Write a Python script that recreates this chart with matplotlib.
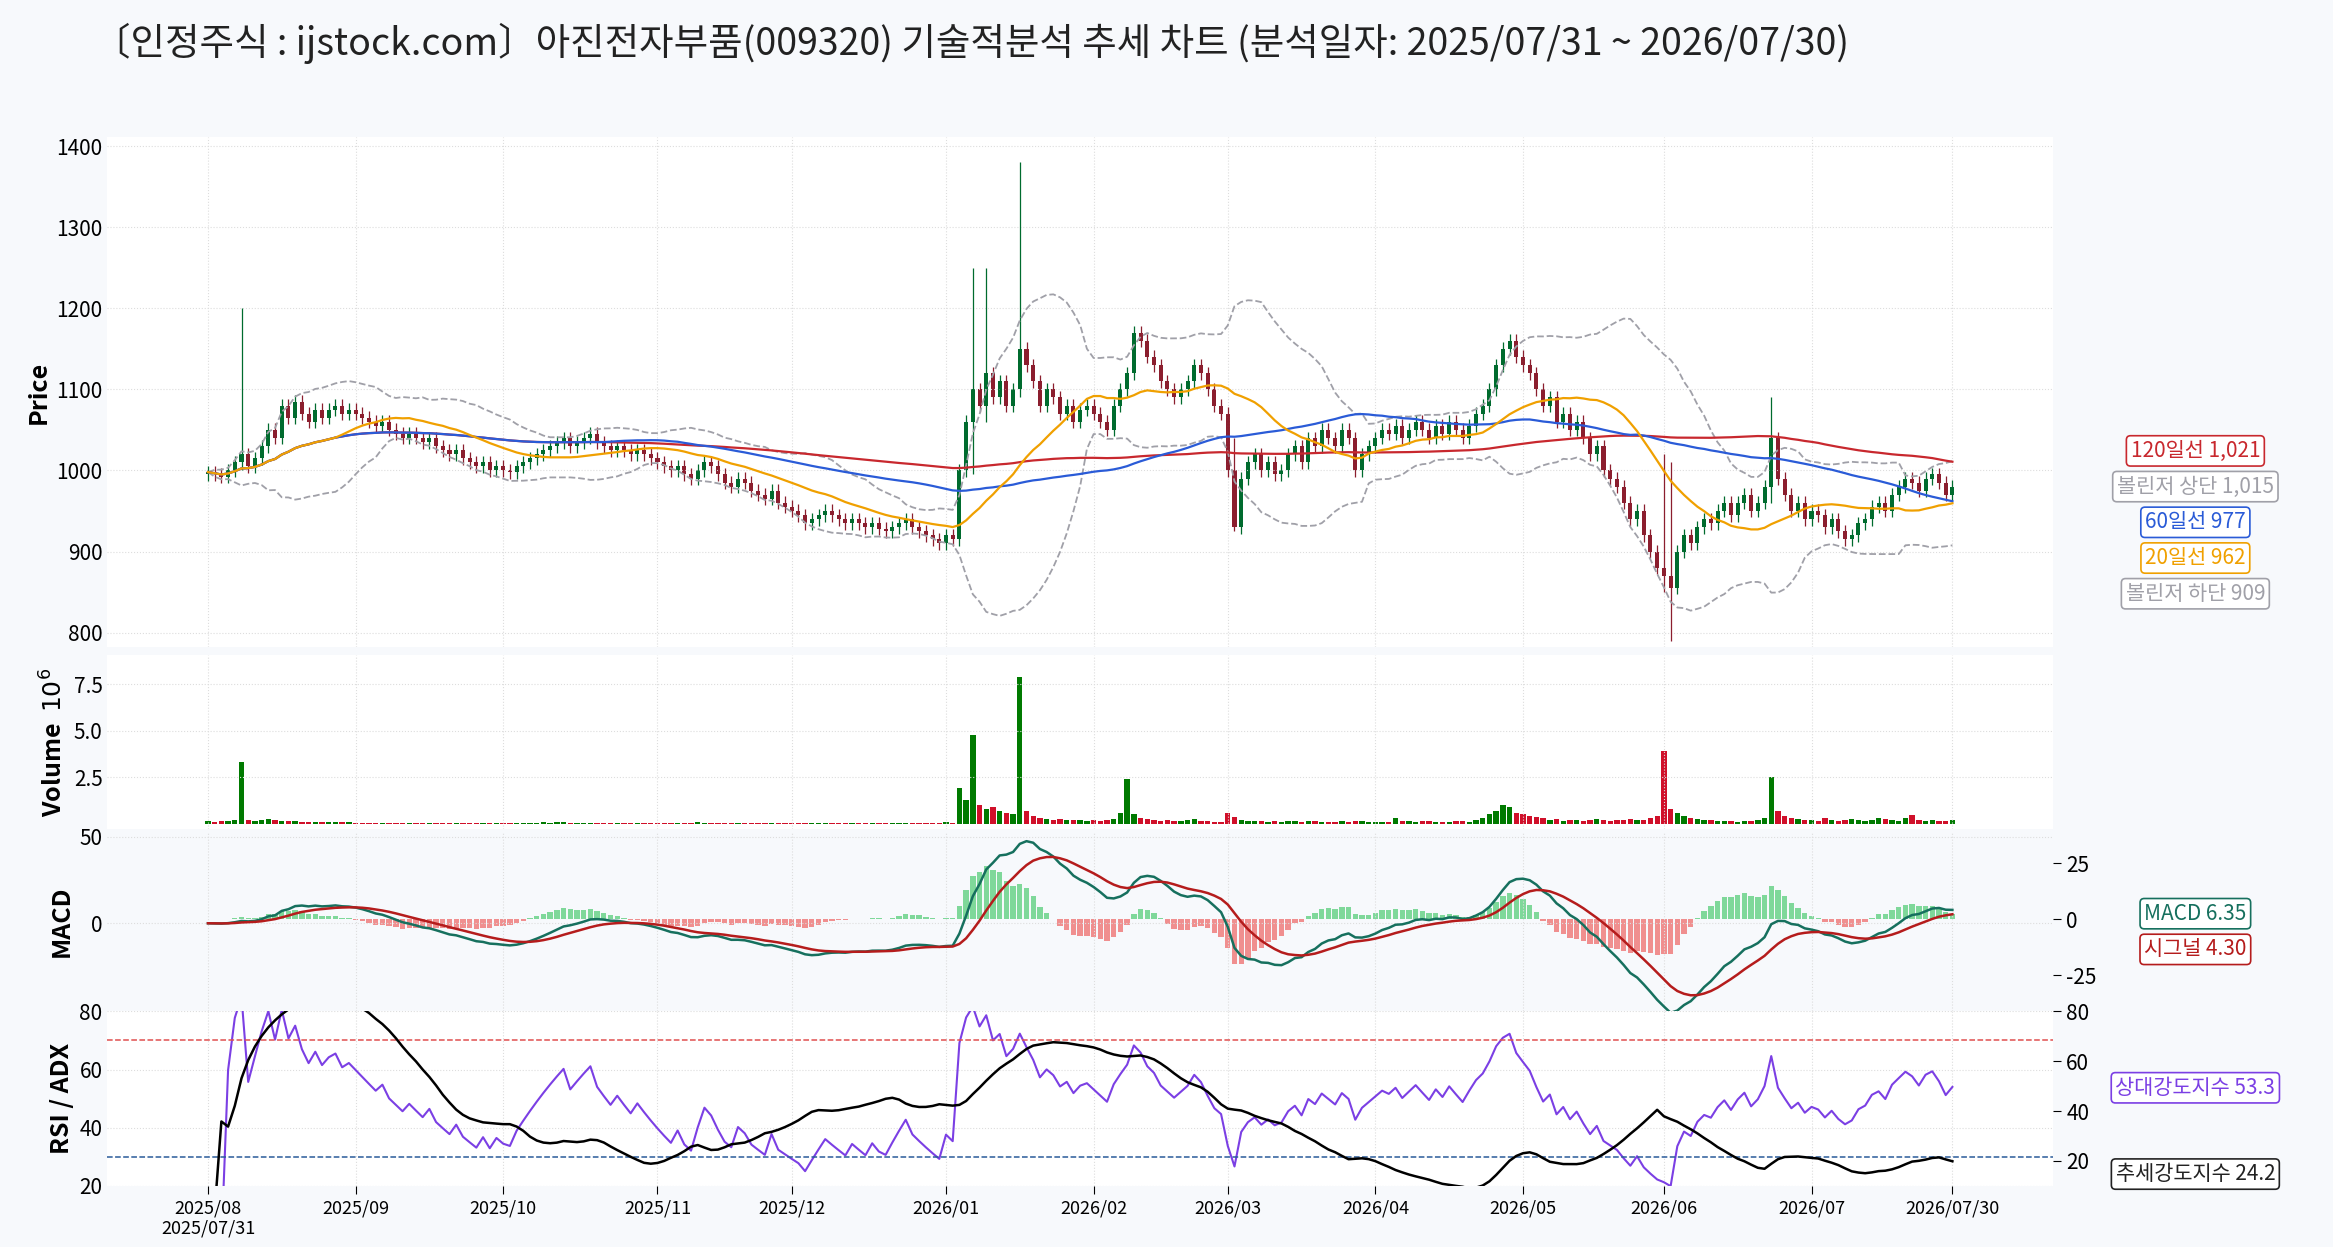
import numpy as np
import pandas as pd
import matplotlib
matplotlib.use("Agg")
import matplotlib.pyplot as plt

plt.rcParams['font.family'] = ['Noto Sans CJK KR', 'DejaVu Sans']
plt.rcParams['axes.unicode_minus'] = False

# daily closes by month (2025/07/31 .. 2026/07/30)
close_by_month = [
    [998],
    [995, 992, 1000, 1010, 1020, 1005, 1015, 1030, 1050, 1040, 1080, 1065, 1085, 1070, 1060, 1075, 1065, 1075, 1080, 1070, 1075],
    [1070, 1065, 1060, 1055, 1060, 1050, 1045, 1040, 1045, 1040, 1035, 1040, 1030, 1025, 1020, 1025, 1015, 1010, 1005, 1010, 1000, 1005],
    [1000, 998, 1005, 1010, 1015, 1020, 1025, 1030, 1035, 1040, 1030, 1035, 1040, 1045, 1035, 1030, 1025, 1030, 1025, 1020, 1025, 1020, 1015],
    [1010, 1005, 1000, 1005, 995, 990, 1000, 1010, 1005, 995, 985, 980, 990, 985, 975, 970, 965, 975, 960, 955],
    [950, 945, 935, 940, 945, 950, 945, 940, 935, 940, 935, 930, 935, 928, 925, 930, 935, 940, 930, 925, 920, 915, 910],
    [920, 915, 1000, 1060, 1100, 1080, 1120, 1090, 1110, 1080, 1100, 1150, 1130, 1110, 1080, 1100, 1090, 1070, 1080, 1060, 1075, 1080],
    [1070, 1060, 1050, 1080, 1100, 1120, 1170, 1160, 1140, 1130, 1110, 1100, 1090, 1100, 1110, 1130, 1120, 1100, 1080, 1070],
    [1000, 930, 990, 1010, 1020, 1000, 1010, 995, 1000, 1020, 1030, 1010, 1040, 1030, 1050, 1040, 1030, 1050, 1040, 1000, 1020, 1030],
    [1040, 1050, 1045, 1055, 1040, 1050, 1060, 1050, 1040, 1055, 1045, 1060, 1050, 1040, 1055, 1070, 1080, 1100, 1130, 1150, 1160, 1140],
    [1130, 1120, 1100, 1080, 1090, 1060, 1070, 1050, 1060, 1040, 1020, 1030, 1000, 990, 980, 960, 940, 950, 920, 900, 880],
    [870, 855, 900, 920, 910, 930, 940, 935, 950, 960, 945, 960, 970, 950, 960, 980, 1040, 990, 970, 950, 960, 940],
    [950, 945, 930, 940, 925, 915, 920, 935, 940, 955, 960, 950, 970, 980, 990, 985, 975, 990, 995, 985, 970, 980],
]
# volume in thousands of shares
vol_by_month = [
    [120],
    [100, 120, 150, 180, 3300, 200, 150, 180, 250, 200, 160, 150, 120, 100, 110, 90, 100, 80, 90, 80, 70],
    [60, 50, 60, 40, 50, 60, 40, 50, 30, 40, 50, 40, 30, 50, 40, 30, 40, 50, 40, 30, 60, 50],
    [40, 50, 60, 40, 50, 60, 70, 60, 80, 90, 60, 50, 60, 50, 40, 50, 40, 30, 40, 50, 40, 30, 40],
    [50, 40, 60, 50, 40, 60, 80, 60, 50, 40, 60, 50, 40, 60, 50, 40, 60, 50, 60, 50],
    [40, 50, 40, 60, 50, 40, 30, 40, 50, 40, 30, 40, 30, 40, 50, 40, 30, 40, 50, 40, 60, 50, 60],
    [80, 60, 1900, 1300, 4800, 1000, 800, 900, 700, 600, 500, 7900, 700, 400, 300, 250, 200, 250, 200, 180, 200, 150],
    [180, 150, 200, 250, 600, 2400, 500, 300, 250, 200, 150, 180, 150, 120, 200, 250, 150, 120, 100, 80],
    [600, 350, 200, 150, 120, 150, 100, 120, 100, 150, 120, 100, 150, 120, 100, 80, 100, 120, 100, 150, 120, 100],
    [80, 100, 80, 300, 150, 120, 100, 150, 120, 100, 80, 100, 150, 120, 100, 200, 300, 500, 700, 1000, 900, 600],
    [500, 400, 350, 300, 200, 250, 150, 200, 180, 150, 200, 250, 200, 150, 180, 200, 250, 180, 200, 300, 400],
    [3900, 800, 600, 400, 300, 250, 200, 180, 150, 120, 150, 100, 120, 150, 200, 300, 2500, 700, 400, 300, 250, 200],
    [200, 150, 300, 180, 150, 200, 250, 180, 150, 200, 300, 250, 200, 150, 300, 450, 200, 150, 200, 150, 120, 180],
]
# notable wicks: index -> (high, low)
wick_extremes = {5: (1200, 1000), 114: (1250, 995), 116: (1250, 1060), 121: (1380, 1090),
                 153: (1040, 925), 217: (1020, 850), 218: (1010, 790), 233: (1090, 960)}

month_labels = ['2025/08', '2025/09', '2025/10', '2025/11', '2025/12', '2026/01', '2026/02',
                '2026/03', '2026/04', '2026/05', '2026/06', '2026/07']
label_values = {'120일선': '1,021', '볼린저 상단': '1,015', '60일선': '977', '20일선': '962',
                '볼린저 하단': '909', 'MACD': '6.35', '시그널': '4.30',
                '상대강도지수': '53.3', '추세강도지수': '24.2'}
title = '〔인정주식 : ijstock.com〕아진전자부품(009320) 기술적분석 추세 차트 (분석일자: 2025/07/31 ~ 2026/07/30)'
# ---------------------------------------------------------------

close = pd.Series(np.concatenate([np.array(m, float) for m in close_by_month]))
vol = np.concatenate([np.array(m, float) for m in vol_by_month]) / 1000  # millions
n = len(close)
x = np.arange(n)
opn = close.shift(1).fillna(close.iloc[0]).values.copy()
opn[opn == close.values] -= 3
high = np.maximum(opn, close.values) + 8
low = np.minimum(opn, close.values) - 8
for k, (h, l) in wick_extremes.items():
    if k < n:
        high[k], low[k] = h, l

bdates = pd.bdate_range('2025-07-31', '2026-07-30')
ticks = [0]
for m in month_labels[1:]:
    y, mo = m.split('/')
    ticks.append(int(np.searchsorted(bdates, pd.Timestamp(int(y), int(mo), 1))))
ticks.append(n - 1)
tlabels = ['2025/08\n2025/07/31'] + month_labels[1:] + ['2026/07/30']

ma20 = close.rolling(20, min_periods=1).mean()
ma60 = close.rolling(60, min_periods=1).mean()
ma120 = close.rolling(120, min_periods=1).mean()
sd = close.rolling(20, min_periods=2).std().fillna(0)
bb_up, bb_lo = ma20 + 2 * sd, ma20 - 2 * sd
macd = close.ewm(span=12).mean() - close.ewm(span=26).mean()
sig = macd.ewm(span=9).mean()
hist = macd - sig
d = close.diff().fillna(0)
up = d.clip(lower=0).ewm(alpha=1 / 14).mean()
dn = (-d.clip(upper=0)).ewm(alpha=1 / 14).mean()
rsi = 100 - 100 / (1 + up / dn.replace(0, 1e-9))
h, l = pd.Series(high), pd.Series(low)
tr = pd.concat([h - l, (h - close.shift()).abs(), (l - close.shift()).abs()], axis=1).max(axis=1)
pdm = (h.diff()).where((h.diff() > -l.diff()) & (h.diff() > 0), 0)
ndm = (-l.diff()).where((-l.diff() > h.diff()) & (-l.diff() > 0), 0)
atr = tr.ewm(alpha=1 / 14).mean()
pdi = 100 * pdm.ewm(alpha=1 / 14).mean() / atr
ndi = 100 * ndm.ewm(alpha=1 / 14).mean() / atr
dx = 100 * (pdi - ndi).abs() / (pdi + ndi).replace(0, 1)
adx = dx.ewm(alpha=1 / 14).mean()

bg = '#f7f9fc'
fig = plt.figure(figsize=(23.33, 12.47), dpi=100, facecolor=bg)
L, W = 0.046, 0.834
ax1 = fig.add_axes([L, 0.481, W, 0.409])
ax2 = fig.add_axes([L, 0.335, W, 0.140], sharex=ax1)
ax3 = fig.add_axes([L, 0.189, W, 0.144], sharex=ax1)
ax4 = fig.add_axes([L, 0.049, W, 0.140], sharex=ax1)
for a in (ax1, ax2, ax3, ax4):
    a.set_facecolor('white')
    for s in a.spines.values():
        s.set_visible(False)
    a.grid(True, color='#dddddd', linestyle=':', linewidth=0.8)
    a.tick_params(length=0, labelsize=15)

upc, dnc = '#006b2e', '#8b1e2e'
isup = close.values >= opn
cols = np.where(isup, upc, dnc)
ax1.vlines(x, low, high, colors=cols, linewidth=0.9)
ax1.bar(x, np.abs(close.values - opn), bottom=np.minimum(opn, close.values), width=0.6, color=cols)
ax1.plot(x, bb_up, '--', color='#a0a0a8', lw=1.3)
ax1.plot(x, bb_lo, '--', color='#a0a0a8', lw=1.3)
ax1.plot(x, ma120, color='#c8282e', lw=1.6)
ax1.plot(x, ma60, color='#2a5bd7', lw=1.6)
ax1.plot(x, ma20, color='#f0a000', lw=1.6)
ax1.set_ylim(782, 1411)
ax1.set_xlim(-15, 275)
ax1.set_ylabel('Price', fontsize=18, fontweight='bold')

vcols = np.where(isup, '#007a00', '#d0102a')
ax2.bar(x, vol, width=0.8, color=vcols)
ax2.set_ylim(-0.3, 9.1)
ax2.set_yticks([2.5, 5, 7.5])
ax2.set_ylabel('Volume  $10^6$', fontsize=18, fontweight='bold')

ax3h = ax3.twinx()
ax3h.bar(x, hist, width=0.8, color=np.where(hist >= 0, '#7fd89a', '#f08f8f'))
ax3h.set_ylim(-41, 39)
ax3h.set_yticks([-25, 0, 25])
ax3h.tick_params(length=6, labelsize=15)
for s in ax3h.spines.values():
    s.set_visible(False)
ax3.set_zorder(ax3h.get_zorder() + 1)
ax3.patch.set_visible(False)
ax3.plot(x, macd, color='#16705e', lw=1.8)
ax3.plot(x, sig, color='#b51c1c', lw=1.8)
ax3.set_ylim(-51, 53)
ax3.set_yticks([0, 50])
ax3.set_ylabel('MACD', fontsize=18, fontweight='bold')

ax4.plot(x, rsi, color='#7b3fe4', lw=1.5)
ax4.axhline(70, color='#e05050', ls='--', lw=1.1)
ax4.axhline(30, color='#2a5b9a', ls='--', lw=1.1)
ax4.set_ylim(20, 80)
ax4.set_yticks([20, 40, 60, 80])
ax4.set_ylabel('RSI / ADX', fontsize=18, fontweight='bold')
ax4a = ax4.twinx()
ax4a.plot(x, adx, color='black', lw=1.8)
ax4a.set_ylim(10, 80)
ax4a.set_yticks([20, 40, 60, 80])
ax4a.tick_params(length=6, labelsize=15)
for s in ax4a.spines.values():
    s.set_visible(False)

for a in (ax1, ax2, ax3):
    plt.setp(a.get_xticklabels(), visible=False)
ax4.set_xticks(ticks)
ax4.set_xticklabels(tlabels, fontsize=13)
ax4.tick_params(axis='x', length=6)

fig.text(0.04, 0.982, title, fontsize=27, va='top', color='#222222')

boxes = [('120일선', '#c8282e', 303), ('볼린저 상단', '#a0a0a8', 327), ('60일선', '#2a5bd7', 351),
         ('20일선', '#f0a000', 375), ('볼린저 하단', '#a0a0a8', 399), ('MACD', '#16705e', 614),
         ('시그널', '#b51c1c', 638), ('상대강도지수', '#7b3fe4', 731), ('추세강도지수', '#222222', 789)]
for name, c, ypx in boxes:
    fig.text(0.941, 1 - ypx / 838, f'{name} {label_values[name]}', fontsize=15, color=c,
             ha='center', va='center',
             bbox=dict(boxstyle='round,pad=0.2', fc='white', ec=c, lw=1.2))

fig.savefig('out.png', dpi=100, facecolor=bg)
